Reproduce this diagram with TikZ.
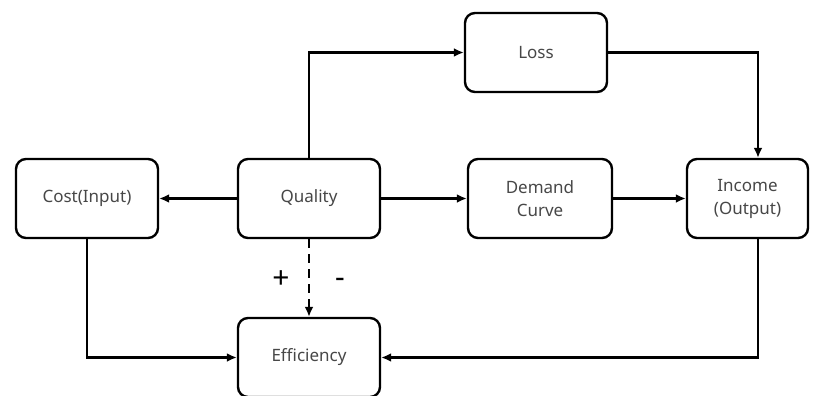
\documentclass[tikz,border=0pt]{standalone}
\usepackage{fontspec}
\setmainfont{Noto Sans}
\usetikzlibrary{arrows.meta}
\begin{document}
\begin{tikzpicture}[x=1pt,y=-1pt,
  box/.style={draw, line width=2.4pt, rounded corners=10pt, minimum width=142pt, minimum height=79pt, inner sep=0pt, align=center, font=\fontsize{17}{23}\selectfont, text=black!72},
  conn/.style={line width=2.3pt, -{Latex[length=10pt,width=9pt]}},
  sign/.style={font=\fontsize{30}{30}\selectfont\bfseries, inner sep=0pt}]
\useasboundingbox (0,0) rectangle (819,396);
\node[box] (cost) at (87,198.5) {Cost(Input)};
\node[box] (quality) at (309,198.5) {Quality};
\node[box] (loss) at (536,52.5) {Loss};
\node[box, minimum width=144pt] (demand) at (540,198.5) {Demand\\Curve};
\node[box, minimum width=121pt] (income) at (747.5,198.5) {Income\\(Output)};
\node[box] (eff) at (309,357.5) {Efficiency};
\coordinate (qtop) at (309,52.5);
\coordinate (lcorner) at (758,52.5);
\coordinate (icorner) at (758,357.5);
\coordinate (ccorner) at (87,357.5);
\draw[conn] (quality.west) -- (cost.east);
\draw[conn] (quality.north) -- (qtop) -- (loss.west);
\draw[conn] (quality.east) -- (demand.west);
\draw[conn] (demand.east) -- (income.west);
\draw[conn] (loss.east) -- (lcorner) -- (lcorner |- income.north);
\draw[conn] (lcorner |- income.south) -- (icorner) -- (eff.east);
\draw[conn] (cost.south) -- (ccorner) -- (eff.west);
\draw[conn, dash pattern=on 9pt off 6pt] (quality.south) -- (eff.north);
\node[sign] (plus) at (281,280) {+};
\node[sign] (minus) at (340,283) {-};
\end{tikzpicture}
\end{document}
